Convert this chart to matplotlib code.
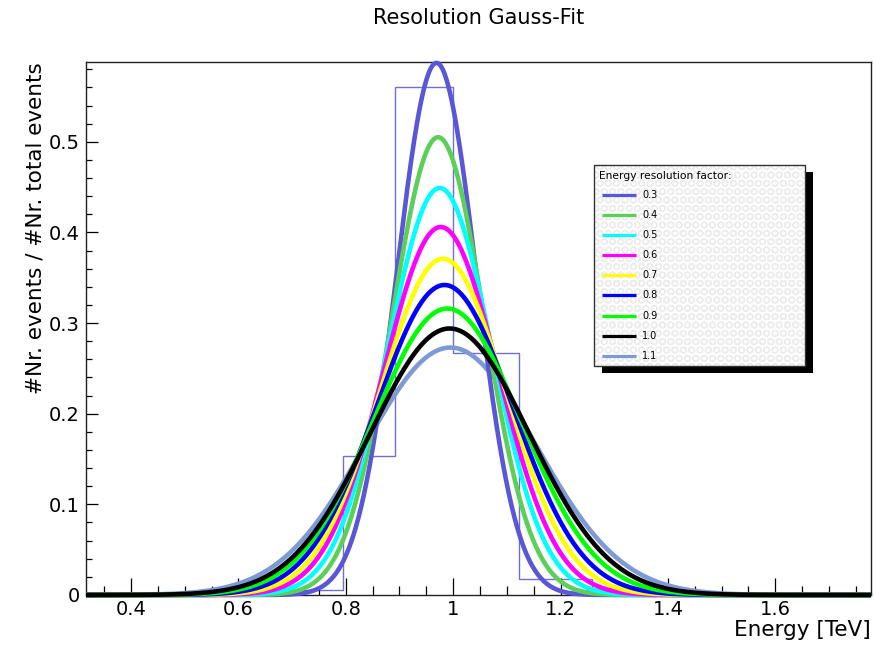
import numpy as np
import matplotlib.pyplot as plt
from matplotlib.patches import Rectangle
from matplotlib.ticker import MultipleLocator, FuncFormatter

plt.rcParams['font.family'] = ['DejaVu Sans']

# Gauss fits, one per energy resolution factor
factors = ['0.3', '0.4', '0.5', '0.6', '0.7', '0.8', '0.9', '1.0', '1.1']
colors = ['#5a56d8', '#5ccf58', '#00ffff', '#ff00ff', '#ffff00',
          '#0000ff', '#00ff00', '#000000', '#7d9ad6']
peak = [0.587, 0.505, 0.449, 0.406, 0.371, 0.342, 0.316, 0.294, 0.273]
mean = [0.969, 0.972, 0.975, 0.977, 0.981, 0.984, 0.989, 0.9935, 0.995]
sigma = [0.074, 0.086, 0.097, 0.107, 0.117, 0.127, 0.138, 0.148, 0.159]

# histogram of the simulated energies
bin_edges = [0.708, 0.794, 0.891, 1.0, 1.122, 1.259]
bin_frac = [0.005, 0.153, 0.56, 0.267, 0.018]

x_min, x_max = 10 ** -0.5, 10 ** 0.25
y_max = 1.05 * max(bin_frac)

fig = plt.figure(figsize=(8.74, 6.52), dpi=100)
ax = fig.add_axes([86 / 874, 1 - 595 / 652, 785 / 874, 533 / 652])

ax.stairs(bin_frac, bin_edges, color='#6f6fdc', lw=1.0, zorder=1)

xs = np.linspace(x_min, x_max, 800)
order = [8, 0, 1, 2, 3, 4, 5, 6, 7]
for z, i in enumerate(order):
    ys = peak[i] * np.exp(-0.5 * ((xs - mean[i]) / sigma[i]) ** 2)
    ax.plot(xs, ys, color=colors[i], lw=3.3, zorder=2 + z, clip_on=False,
            solid_capstyle='butt')

ax.set_xlim(x_min, x_max)
ax.set_ylim(0, y_max)

fmt = FuncFormatter(lambda v, p: '%g' % round(v, 3))
ax.xaxis.set_major_locator(MultipleLocator(0.2))
ax.xaxis.set_minor_locator(MultipleLocator(0.05))
ax.yaxis.set_major_locator(MultipleLocator(0.1))
ax.yaxis.set_minor_locator(MultipleLocator(0.02))
ax.xaxis.set_major_formatter(fmt)
ax.yaxis.set_major_formatter(fmt)
ax.tick_params(axis='x', which='major', direction='in', length=12, width=0.9,
               labelsize=14, pad=3.5)
ax.tick_params(axis='x', which='minor', direction='in', length=6.5, width=0.9)
ax.tick_params(axis='y', which='major', direction='in', length=8.3, width=0.9,
               labelsize=14, pad=4.5)
ax.tick_params(axis='y', which='minor', direction='in', length=4.3, width=0.9)
for s in ax.spines.values():
    s.set_linewidth(1.0)
    s.set_color('#222222')

ax.set_xlabel('Energy [TeV]', fontsize=15.5, loc='right')
ax.xaxis.set_label_coords(1.0, -0.047)
ax.set_ylabel('#Nr. events / #Nr. total events', fontsize=15.5, loc='top')
ax.yaxis.set_label_coords(-0.052, 1.0)
fig.suptitle('Resolution Gauss-Fit', x=(86 + 871) / 2 / 874, y=0.988,
             fontsize=15, va='top')

# legend box with shadow and hatched background, ROOT style
bx, by, bw, bh = 0.647, 0.4296, 0.2689, 0.3772
ax.add_patch(Rectangle((bx + 0.0102, by - 0.0131), bw, bh, transform=ax.transAxes,
                       facecolor='black', edgecolor='none', zorder=20, clip_on=False))
ax.add_patch(Rectangle((bx, by), bw, bh, transform=ax.transAxes, facecolor='white',
                       edgecolor='#ececec', hatch='OO', lw=0, zorder=21))
ax.add_patch(Rectangle((bx, by), bw, bh, transform=ax.transAxes, facecolor='none',
                       edgecolor='#333333', lw=1.0, zorder=22))
ax.text(0.6535, 0.786, 'Energy resolution factor:', transform=ax.transAxes,
        fontsize=7.7, va='center', ha='left', zorder=23)
for i, lab in enumerate(factors):
    yy = (595 - (195 + 20.1 * i)) / 533
    ax.plot([0.6573, 0.7006], [yy, yy], transform=ax.transAxes, color=colors[i],
            lw=2.3, zorder=23, solid_capstyle='butt')
    ax.text(0.7083, yy, lab, transform=ax.transAxes, fontsize=7, va='center',
            ha='left', zorder=23)

fig.savefig('out.png', dpi=100)
